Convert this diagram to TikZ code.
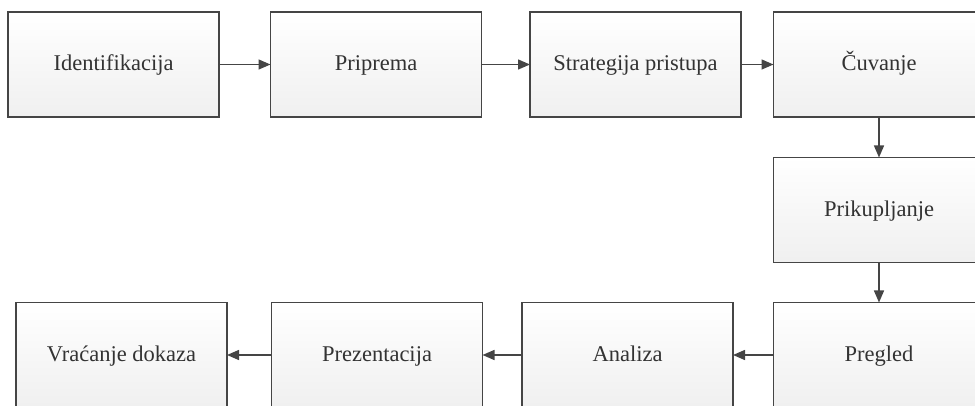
\documentclass[tikz,border=0pt]{standalone}
\usepackage{fontspec}
\setmainfont{Liberation Serif}
\usetikzlibrary{arrows.meta}
\definecolor{edge}{HTML}{454545}
\definecolor{txt}{HTML}{333333}
\tikzset{
  stepbox/.style={draw=edge, line width=1.3pt, top color=white, bottom color=black!6,
    minimum width=211pt, minimum height=105pt, inner sep=0pt, outer sep=0pt,
    text height=16pt, text depth=3pt,
    text=txt, font=\fontsize{22.5}{25}\selectfont},
  conn/.style={draw=edge, line width=1.4pt, -{Triangle[length=12pt,width=10pt]}}
}
\begin{document}
\begin{tikzpicture}[x=1pt,y=-1pt]
\useasboundingbox (0,0) rectangle (975,406);
\clip (0,0) rectangle (975,406);
\node[stepbox] (A) at (113.5,64.5) {Identifikacija};
\node[stepbox] (B) at (376,64.5) {Priprema};
\node[stepbox] (C) at (635.5,64.5) {Strategija pristupa};
\node[stepbox] (D) at (879,64.5) {Čuvanje};
\node[stepbox] (E) at (879,210) {Prikupljanje};
\node[stepbox] (F) at (879,355) {Pregled};
\node[stepbox] (G) at (627.5,355) {Analiza};
\node[stepbox] (H) at (377,355) {Prezentacija};
\node[stepbox] (I) at (121.5,355) {Vraćanje dokaza};
\draw[conn] (A) -- (B);
\draw[conn] (B) -- (C);
\draw[conn] (C) -- (D);
\draw[conn] (D) -- (E);
\draw[conn] (E) -- (F);
\draw[conn] (F) -- (G);
\draw[conn] (G) -- (H);
\draw[conn] (H) -- (I);
\end{tikzpicture}
\end{document}
